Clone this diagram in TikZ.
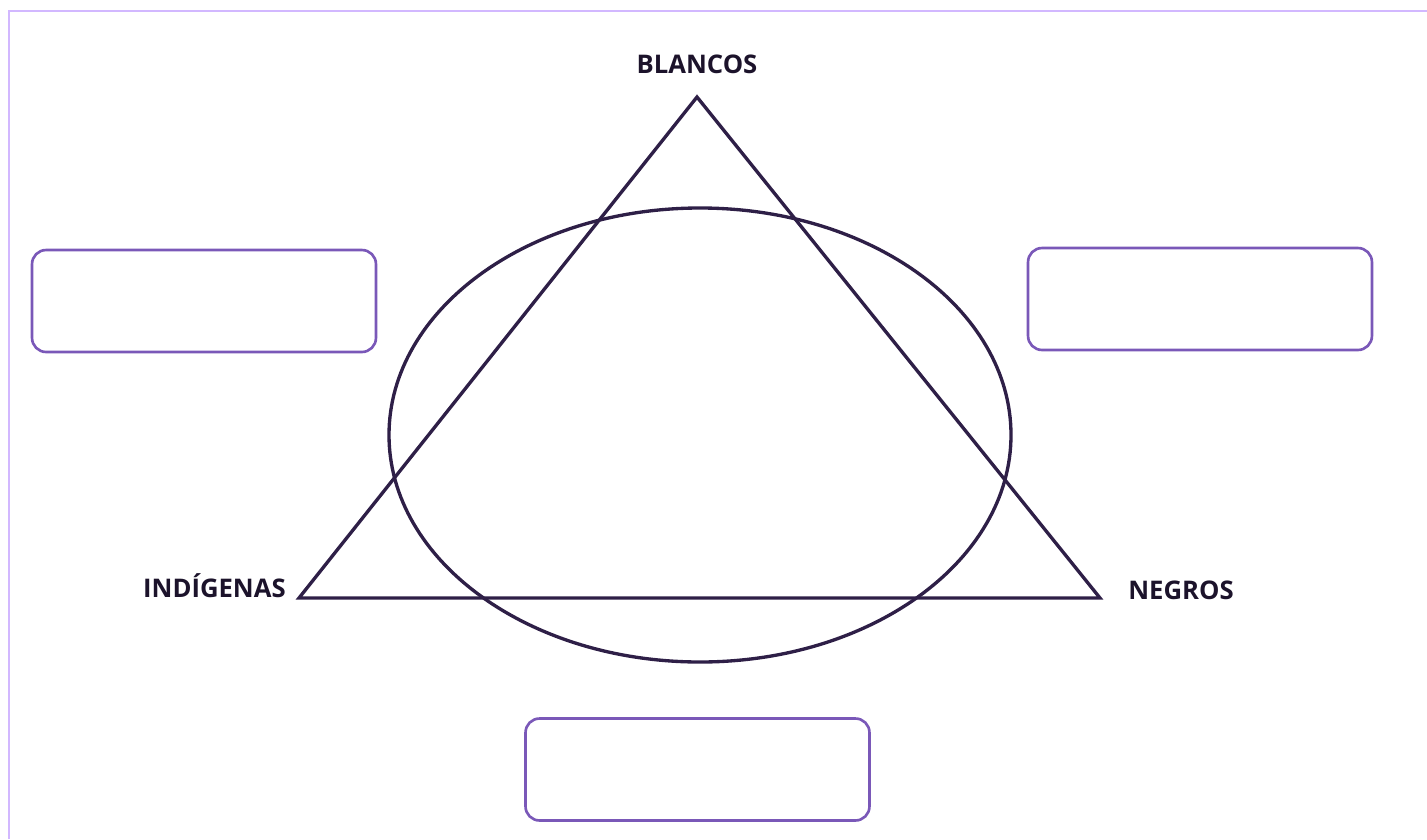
\documentclass[tikz,border=0pt]{standalone}
\usepackage{fontspec}
\setmainfont{Open Sans}
\usepackage{tikz}
\usetikzlibrary{positioning}

\definecolor{linea}{HTML}{2E1F47}
\definecolor{marco}{HTML}{D2B8FF}
\definecolor{caja}{HTML}{7A58B8}

\tikzset{
    etiqueta/.style={font=\bfseries\fontsize{14.6}{17}\selectfont, text=linea!60!black, inner sep=0pt},
    cajita/.style={draw=caja, line width=1.5pt, rounded corners=8pt, minimum width=6.88cm, minimum height=2.04cm}
}

\begin{document}
\begin{tikzpicture}[x=0.02cm,y=-0.02cm]

\useasboundingbox (0,0) rectangle (1427,839);

% marco
\draw[marco, line width=1.2pt] (9,839) -- (9,11) -- (1427,11);

% triangulo
\coordinate (arriba) at (697,97);
\coordinate (izq) at (299,598);
\coordinate (der) at (1100,598);
\draw[linea, line width=1.9pt, line join=miter] (arriba) -- (izq) -- (der) -- cycle;

% elipse
\draw[linea, line width=1.9pt] (700,435) ellipse (311 and 227);

% etiquetas
\node[etiqueta] (blancos) at (697,64) {BLANCOS};
\node[etiqueta, anchor=east] (indigenas) at (286,586) {INDÍGENAS};
\node[etiqueta, anchor=west] (negros) at (1128,590) {NEGROS};

% cajas vacias
\node[cajita] (cajaIzq) at (204,301) {};
\node[cajita] (cajaDer) at (1200,299) {};
\node[cajita] (cajaAbajo) at (697.5,769.5) {};

\end{tikzpicture}
\end{document}
